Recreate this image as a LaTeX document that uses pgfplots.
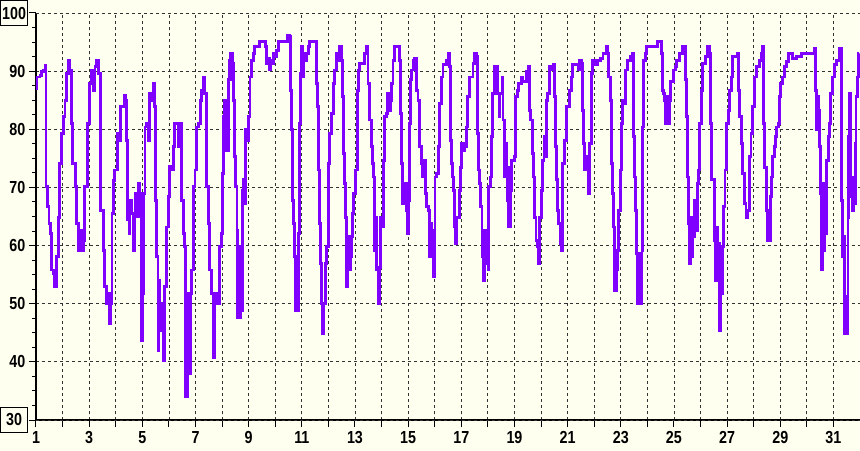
\documentclass[border=0pt]{standalone}
\usepackage{fontspec}
\setmainfont{Liberation Sans}[FakeStretch=0.82]
\usepackage{pgfplots}
\pgfplotsset{compat=1.18}
\definecolor{bgc}{RGB}{255,255,240}
\definecolor{linec}{RGB}{128,0,255}
\definecolor{gridc}{RGB}{50,50,50}
\begin{document}
\begin{tikzpicture}
\fill[bgc] (-36bp,-31bp) rectangle (824bp,420bp);
\useasboundingbox (-36bp,-31bp) rectangle (824bp,420bp);
\begin{axis}[
  at={(0,0)}, anchor=south west,
  scale only axis, width=824bp, height=407bp,
  xmin=1, xmax=32, ymin=30, ymax=100,
  axis x line=bottom, axis y line=left,
  axis line style={-, line width=1.6bp, black},
  xtick={1,...,31},
  xticklabels={1,,3,,5,,7,,9,,11,,13,,15,,17,,19,,21,,23,,25,,27,,29,,31},
  ytick={40,50,...,90},
  minor ytick={30,32.5,...,100},
  extra y ticks={30,100},
  extra y tick style={yticklabel style={draw=black, line width=0.8bp, minimum width=27bp, minimum height=25bp, inner sep=0pt, xshift=2.5bp}},
  xtick align=outside, ytick align=outside,
  major tick length=7bp, minor tick length=3.5bp,
  tick style={black, line width=1bp},
  xmajorgrids, ymajorgrids,
  major grid style={gridc, line width=0.8bp, dash pattern=on 3bp off 3bp},
  /pgf/number format/assume math mode=true,
  tick label style={font=\bfseries\fontsize{17.5}{18}\selectfont},
  yticklabel style={inner sep=0pt, anchor=east, xshift=-3.5bp},
  xticklabel style={inner sep=0pt, anchor=north, yshift=-4.5bp},
  axis background/.style={fill=bgc},
]
\addplot[linec, line width=2.9bp, const plot, line join=miter] coordinates {
(1.00,87.0) (1.03,89.0) (1.15,89.3) (1.22,90.0) (1.28,90.2) (1.34,91.0) (1.376,70.1) (1.43,66.7) (1.49,63.8) (1.53,62.1) (1.59,55.8) (1.65,55.2) (1.71,52.9) (1.78,58.1) (1.84,64.9) (1.90,74.1) (1.97,79.3) (2.03,82.2) (2.09,85.0) (2.15,89.6) (2.22,91.9) (2.28,90.2) (2.32,81.0) (2.38,74.1) (2.47,70.1) (2.53,63.8) (2.59,59.2) (2.65,62.6) (2.72,59.2) (2.78,60.9) (2.84,70.1) (2.93,81.0) (3.00,87.9) (3.09,90.2) (3.16,86.7) (3.22,90.8) (3.28,91.9) (3.34,89.6) (3.41,83.3) (3.44,66.1) (3.53,59.2) (3.59,52.9) (3.66,50.0) (3.72,51.8) (3.78,46.6) (3.82,50.0) (3.86,65.5) (3.91,71.2) (3.97,73.0) (4.07,79.3) (4.13,78.1) (4.18,83.9) (4.31,85.9) (4.38,85.0) (4.42,78.1) (4.45,64.4) (4.50,62.1) (4.53,67.8) (4.60,65.5) (4.66,59.2) (4.70,65.5) (4.75,69.0) (4.78,65.0) (4.85,70.7) (4.91,65.5) (4.95,43.7) (4.99,69.0) (5.02,51.8) (5.06,69.0) (5.10,80.4) (5.16,81.0) (5.22,78.1) (5.26,86.2) (5.35,85.0) (5.41,87.9) (5.47,83.9) (5.51,67.8) (5.55,58.1) (5.59,42.0) (5.62,54.0) (5.66,45.4) (5.70,50.0) (5.74,49.5) (5.79,40.3) (5.84,52.9) (5.91,63.2) (5.97,68.4) (6.01,73.6) (6.10,73.0) (6.16,77.0) (6.20,81.0) (6.29,81.0) (6.35,77.0) (6.41,81.0) (6.48,67.8) (6.54,62.1) (6.60,59.8) (6.64,34.0) (6.69,51.8) (6.74,40.3) (6.79,38.0) (6.83,51.8) (6.86,55.8) (6.91,70.1) (6.98,73.0) (7.04,80.4) (7.13,81.0) (7.19,85.0) (7.24,86.7) (7.29,89.0) (7.35,86.2) (7.42,70.1) (7.48,63.8) (7.54,55.8) (7.60,51.8) (7.67,40.8) (7.73,50.0) (7.79,51.8) (7.85,50.0) (7.92,59.8) (7.98,62.1) (8.02,72.4) (8.04,82.2) (8.10,85.0) (8.17,76.4) (8.23,88.5) (8.29,91.9) (8.33,93.0) (8.38,88.5) (8.42,91.3) (8.44,85.0) (8.48,75.3) (8.52,70.1) (8.56,62.6) (8.59,47.7) (8.63,59.8) (8.67,47.7) (8.71,59.8) (8.74,48.9) (8.78,69.5) (8.82,71.3) (8.86,67.2) (8.89,79.9) (8.95,78.1) (9.00,82.2) (9.05,89.0) (9.11,91.9) (9.17,93.0) (9.23,94.2) (9.40,94.2) (9.42,95.1) (9.58,95.1) (9.62,94.2) (9.67,91.3) (9.73,92.2) (9.77,90.2) (9.82,91.9) (9.87,91.3) (9.92,93.0) (9.99,92.5) (10.05,93.6) (10.11,95.1) (10.42,95.1) (10.47,96.2) (10.55,95.9) (10.57,86.7) (10.61,79.9) (10.65,67.8) (10.70,63.8) (10.74,58.1) (10.77,48.9) (10.82,54.0) (10.86,48.9) (10.89,62.1) (10.93,81.0) (10.96,89.6) (11.00,94.2) (11.04,89.0) (11.08,93.0) (11.13,91.9) (11.18,93.0) (11.24,94.2) (11.30,95.1) (11.50,95.1) (11.55,87.9) (11.59,83.9) (11.63,73.0) (11.68,63.8) (11.71,56.9) (11.74,50.0) (11.78,44.9) (11.83,50.0) (11.88,56.9) (11.93,59.8) (11.99,74.1) (12.05,79.3) (12.12,82.7) (12.18,87.9) (12.24,90.2) (12.30,93.0) (12.37,91.9) (12.43,94.2) (12.49,91.9) (12.53,85.6) (12.58,75.8) (12.62,70.7) (12.65,64.9) (12.69,52.9) (12.73,61.5) (12.77,55.8) (12.82,58.1) (12.87,61.5) (12.90,65.5) (12.95,69.0) (13.03,73.0) (13.08,86.7) (13.12,90.2) (13.18,91.3) (13.31,91.3) (13.37,93.0) (13.43,94.2) (13.49,87.9) (13.56,81.6) (13.62,77.0) (13.66,74.1) (13.71,71.8) (13.74,59.2) (13.78,64.9) (13.82,55.8) (13.87,50.0) (13.91,56.3) (13.96,64.9) (14.01,63.2) (14.06,74.7) (14.12,82.2) (14.18,82.7) (14.22,86.2) (14.27,83.3) (14.33,85.0) (14.38,87.9) (14.43,91.9) (14.50,94.2) (14.62,94.2) (14.66,91.9) (14.71,82.7) (14.75,74.1) (14.78,67.2) (14.82,70.7) (14.86,67.2) (14.91,70.7) (14.95,66.1) (14.99,62.1) (15.02,67.8) (15.06,81.0) (15.10,88.5) (15.14,90.2) (15.19,91.9) (15.25,92.2) (15.31,86.7) (15.37,85.0) (15.44,77.0) (15.50,74.1) (15.54,71.8) (15.59,74.7) (15.64,69.0) (15.69,66.7) (15.75,66.1) (15.79,58.1) (15.84,63.8) (15.89,58.1) (15.94,54.6) (15.98,62.6) (16.01,71.8) (16.06,72.4) (16.13,77.0) (16.19,84.5) (16.25,89.0) (16.31,91.1) (16.44,91.9) (16.50,93.1) (16.56,90.8) (16.59,78.1) (16.63,74.1) (16.66,71.8) (16.70,69.5) (16.74,63.2) (16.78,60.4) (16.81,64.9) (16.88,64.9) (16.94,69.5) (16.98,73.5) (17.02,77.6) (17.07,76.4) (17.13,77.0) (17.19,80.4) (17.25,85.6) (17.32,89.0) (17.39,89.0) (17.44,91.3) (17.50,93.1) (17.57,92.5) (17.60,79.3) (17.65,73.0) (17.69,70.7) (17.73,66.7) (17.78,58.1) (17.82,61.5) (17.84,54.0) (17.88,62.6) (17.92,56.9) (17.96,62.6) (18.01,55.8) (18.04,70.1) (18.09,71.8) (18.13,78.7) (18.19,86.2) (18.26,90.8) (18.32,90.8) (18.36,86.2) (18.42,82.2) (18.44,86.2) (18.49,86.2) (18.53,89.0) (18.57,81.6) (18.61,77.0) (18.64,71.8) (18.68,77.6) (18.72,67.8) (18.76,73.5) (18.79,63.2) (18.84,69.5) (18.89,74.7) (19.01,75.3) (19.05,85.6) (19.10,86.7) (19.16,87.9) (19.26,89.0) (19.32,88.2) (19.42,88.2) (19.47,89.9) (19.53,90.8) (19.57,83.3) (19.62,81.6) (19.67,75.8) (19.72,71.8) (19.76,64.9) (19.81,60.9) (19.86,59.8) (19.91,56.9) (19.95,64.9) (20.01,69.5) (20.07,74.7) (20.11,78.7) (20.15,75.3) (20.19,81.0) (20.22,85.0) (20.26,86.2) (20.32,90.8) (20.39,90.2) (20.45,91.1) (20.49,85.6) (20.54,77.0) (20.57,71.3) (20.62,66.1) (20.67,63.8) (20.72,60.4) (20.76,59.2) (20.80,64.9) (20.82,74.1) (20.89,78.1) (20.95,83.9) (21.01,83.9) (21.08,86.7) (21.14,89.0) (21.20,91.1) (21.33,91.1) (21.39,90.2) (21.45,91.9) (21.51,91.3) (21.55,83.3) (21.60,77.6) (21.65,73.0) (21.70,75.3) (21.74,73.0) (21.79,69.0) (21.83,77.6) (21.89,89.6) (21.95,91.9) (22.05,91.1) (22.14,91.9) (22.23,92.2) (22.33,93.1) (22.45,94.2) (22.51,93.1) (22.55,89.0) (22.60,85.0) (22.64,74.1) (22.70,69.0) (22.74,63.2) (22.78,52.3) (22.83,55.8) (22.86,59.2) (22.93,66.1) (22.98,73.0) (23.02,81.0) (23.08,85.0) (23.14,84.5) (23.18,90.2) (23.24,91.9) (23.37,92.5) (23.43,93.1) (23.48,78.7) (23.52,71.8) (23.55,66.1) (23.60,58.6) (23.64,50.0) (23.68,58.6) (23.72,50.0) (23.77,50.0) (23.80,59.2) (23.83,80.4) (23.87,91.9) (23.92,93.1) (23.98,94.2) (24.36,94.2) (24.39,95.1) (24.48,95.1) (24.52,93.1) (24.56,86.7) (24.61,86.2) (24.66,85.0) (24.68,81.0) (24.73,85.6) (24.78,81.0) (24.82,85.0) (24.86,88.2) (24.93,88.2) (24.98,90.2) (25.05,90.8) (25.11,91.9) (25.21,93.1) (25.31,94.2) (25.40,94.2) (25.43,88.5) (25.48,82.2) (25.51,71.8) (25.56,63.8) (25.60,56.9) (25.63,64.9) (25.67,58.1) (25.71,64.4) (25.75,61.5) (25.77,67.8) (25.81,64.4) (25.85,62.6) (25.88,70.7) (25.92,73.0) (25.96,81.0) (26.02,86.7) (26.09,91.3) (26.19,92.5) (26.27,94.2) (26.34,93.1) (26.37,81.0) (26.42,71.3) (26.49,71.3) (26.52,60.9) (26.56,54.0) (26.60,63.2) (26.64,56.4) (26.67,60.4) (26.71,45.4) (26.76,51.8) (26.81,59.8) (26.86,66.7) (26.92,73.0) (26.99,81.0) (27.04,83.3) (27.09,86.7) (27.15,89.0) (27.21,92.5) (27.34,92.5) (27.40,93.1) (27.44,86.7) (27.48,82.2) (27.53,77.6) (27.59,72.4) (27.65,67.2) (27.71,64.9) (27.78,66.1) (27.84,75.3) (27.90,79.3) (27.97,83.9) (28.03,89.0) (28.09,90.8) (28.22,91.9) (28.28,93.1) (28.32,94.2) (28.37,81.0) (28.41,73.5) (28.47,66.1) (28.52,60.9) (28.57,60.9) (28.62,68.4) (28.67,71.8) (28.72,75.3) (28.77,77.0) (28.82,78.7) (28.87,80.4) (28.92,81.0) (28.96,85.6) (29.00,87.9) (29.10,89.0) (29.16,90.8) (29.25,91.6) (29.32,93.1) (29.47,92.2) (29.60,92.5) (29.79,93.1) (30.26,93.1) (30.29,93.9) (30.33,86.7) (30.36,79.9) (30.40,85.6) (30.44,83.3) (30.48,77.0) (30.51,69.0) (30.55,55.8) (30.59,70.7) (30.63,59.2) (30.66,70.7) (30.70,62.1) (30.75,74.7) (30.80,78.7) (30.85,81.0) (30.89,86.2) (30.95,89.0) (31.03,91.1) (31.13,91.9) (31.23,93.9) (31.29,93.1) (31.32,67.8) (31.35,58.1) (31.39,61.5) (31.43,44.9) (31.47,51.2) (31.50,44.9) (31.53,51.2) (31.55,64.9) (31.58,78.7) (31.60,86.2) (31.63,68.4) (31.67,71.8) (31.70,66.1) (31.74,71.8) (31.78,67.2) (31.82,77.6) (31.85,85.6) (31.89,89.0) (31.93,93.1) (31.98,93.1)
};
\end{axis}
\end{tikzpicture}
\end{document}
